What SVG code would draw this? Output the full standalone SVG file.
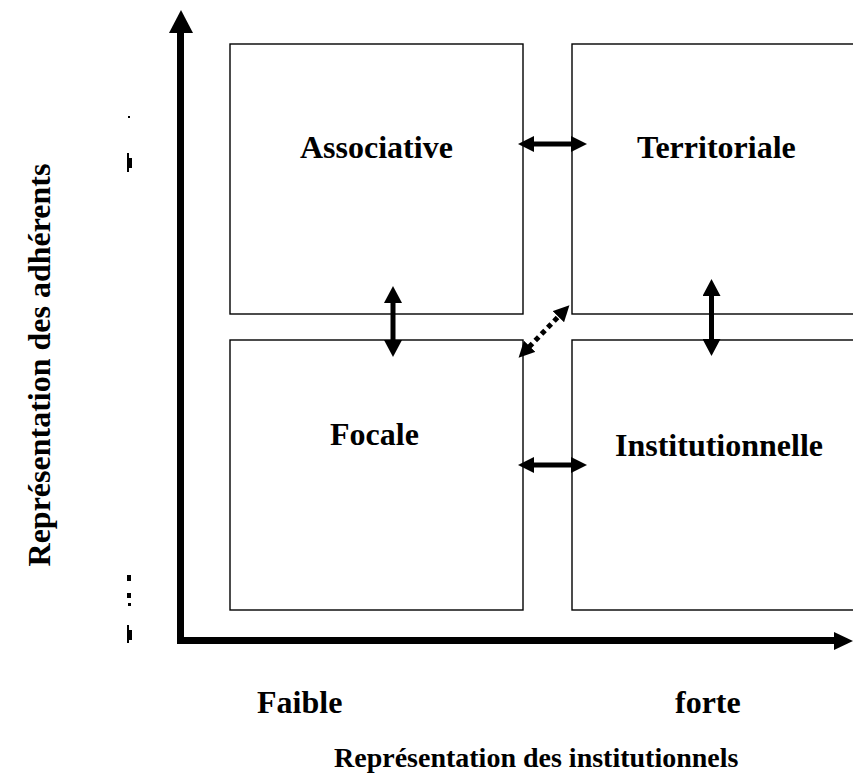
<svg xmlns="http://www.w3.org/2000/svg" width="853" height="774" viewBox="0 0 853 774">
<style>
.box{fill:#fff;stroke:#000;stroke-width:1.4}
.lbl{font-family:"Liberation Serif","Times New Roman",serif;font-weight:bold;font-size:32px;fill:#000}
.ax{font-family:"Liberation Serif","Times New Roman",serif;font-weight:bold;font-size:32px;fill:#000}
.axs{font-family:"Liberation Serif","Times New Roman",serif;font-weight:bold;font-size:28px;fill:#000}
.sh{stroke:#000;stroke-width:5;fill:none}
</style>
<defs>
<marker id="hh" viewBox="0 0 16 16" refX="1" refY="8" markerWidth="16" markerHeight="16" markerUnits="userSpaceOnUse" orient="auto-start-reverse"><path d="M0,0 L16,8 L0,16 z" fill="#000"/></marker>
<marker id="hv" viewBox="0 0 17 18" refX="1" refY="9" markerWidth="17" markerHeight="18" markerUnits="userSpaceOnUse" orient="auto-start-reverse"><path d="M0,0 L17,9 L0,18 z" fill="#000"/></marker>
</defs>
<rect width="853" height="774" fill="#fff"/>
<g id="assoc"><rect class="box" x="230" y="44" width="293" height="270"/><text class="lbl" x="300" y="158">Associative</text></g>
<g id="terri"><rect class="box" x="572" y="44" width="290" height="270"/><text class="lbl" x="637" y="158">Territoriale</text></g>
<g id="focale"><rect class="box" x="230" y="340" width="293" height="270"/><text class="lbl" x="330" y="445">Focale</text></g>
<g id="instit"><rect class="box" x="572" y="340" width="290" height="270"/><text class="lbl" x="615" y="456">Institutionnelle</text></g>
<g id="axes">
<rect x="177" y="32" width="7" height="612"/>
<polygon points="181,10 169,33 193,33"/>
<rect x="177" y="637" width="658" height="7"/>
<polygon points="853,641 834,632 834,650"/>
</g>
<g id="connectors">
<line class="sh" x1="533" y1="144" x2="572" y2="144" marker-start="url(#hh)" marker-end="url(#hh)"/>
<line class="sh" x1="533" y1="465" x2="572" y2="465" marker-start="url(#hh)" marker-end="url(#hh)"/>
<line class="sh" x1="393" y1="302" x2="393" y2="341" marker-start="url(#hv)" marker-end="url(#hv)"/>
<line class="sh" x1="711.5" y1="295" x2="711.5" y2="340" marker-start="url(#hv)" marker-end="url(#hv)"/>
<line class="sh" x1="529" y1="347" x2="559" y2="316" stroke-dasharray="5 4" marker-start="url(#hh)" marker-end="url(#hh)"/>
</g>
<g id="axis-labels">
<text class="ax" x="257" y="713">Faible</text>
<text class="ax" x="675" y="713">forte</text>
<text class="axs" x="334" y="767">Représentation des institutionnels</text>
<text class="ax" transform="translate(50,365) rotate(-90)" text-anchor="middle">Représentation des adhérents</text>
</g>
<g id="marks">
<rect x="128" y="116" width="2" height="2"/>
<rect x="127" y="153" width="2" height="19"/>
<rect x="129" y="158" width="3" height="10"/>
<rect x="127" y="575" width="4" height="6"/>
<rect x="127" y="593" width="4" height="5"/>
<rect x="128" y="603" width="3" height="3"/>
<rect x="127" y="625" width="2" height="18"/>
<rect x="129" y="630" width="3" height="10"/>
</g>
</svg>
